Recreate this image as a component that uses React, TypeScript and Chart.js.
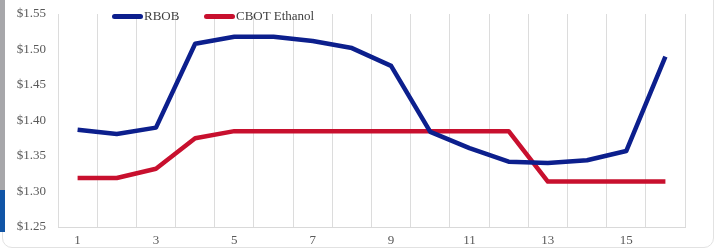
import React, { useEffect, useRef } from "react";
import { Chart, registerables } from "chart.js";

Chart.register(...registerables);

const categories = ["1","2","3","4","5","6","7","8","9","10","11","12","13","14","15","16"];
const rbob = [1.387,1.381,1.390,1.508,1.518,1.518,1.512,1.502,1.477,1.384,1.361,1.342,1.340,1.344,1.357,1.490];
const ethanol = [1.319,1.319,1.332,1.375,1.385,1.385,1.385,1.385,1.385,1.385,1.385,1.385,1.314,1.314,1.314,1.314];
const seriesNames = ["RBOB", "CBOT Ethanol"];
const yMin = 1.25;
const yMax = 1.55;
const yStep = 0.05;

const BLUE = "#0c1f8d";
const RED = "#c8102e";
const FONT = "'Liberation Serif', 'Times New Roman', serif";

export default function App() {
  const ref = useRef<HTMLCanvasElement | null>(null);

  useEffect(() => {
    document.body.style.margin = "0";
    const canvas = ref.current;
    if (!canvas) return;
    const chart = new Chart(canvas, {
      type: "line",
      data: {
        labels: categories,
        datasets: [
          {
            label: seriesNames[0],
            data: rbob,
            borderColor: BLUE,
            backgroundColor: BLUE,
            borderWidth: 4.5,
            pointRadius: 0,
            tension: 0,
            borderJoinStyle: "round",
          },
          {
            label: seriesNames[1],
            data: ethanol,
            borderColor: RED,
            backgroundColor: RED,
            borderWidth: 4.5,
            pointRadius: 0,
            tension: 0,
            borderJoinStyle: "round",
          },
        ],
      },
      options: {
        responsive: false,
        animation: false,
        layout: { padding: { left: 0, right: 37, top: 14, bottom: 0 } },
        plugins: { legend: { display: false }, tooltip: { enabled: false } },
        scales: {
          x: {
            offset: true,
            grid: { offset: true, color: "#dcdcdc", lineWidth: 1, drawTicks: false },
            border: { display: true, color: "#d9d9d9" },
            ticks: {
              autoSkip: false,
              maxRotation: 0,
              padding: 6,
              color: "#595959",
              font: { family: FONT, size: 13 },
              callback: (_v: any, i: number) => (i % 2 === 0 ? categories[i] : ""),
            },
            afterFit: (s: any) => { s.height = 25; },
          },
          y: {
            min: yMin,
            max: yMax,
            grid: { display: false, drawTicks: false },
            border: { display: false },
            ticks: {
              stepSize: yStep,
              padding: 12,
              color: "#595959",
              font: { family: FONT, size: 13 },
              callback: (v: any) => "$" + Number(v).toFixed(2),
            },
            afterFit: (s: any) => { s.width = 58; s.paddingTop = 0; s.paddingBottom = 0; },
          },
        },
      },
    });
    return () => chart.destroy();
  }, []);

  const legendItem = (x: number, color: string, text: string) => (
    <div style={{ position: "absolute", left: x, top: 8, height: 16, display: "flex", alignItems: "center" }}>
      <div style={{ width: 31, height: 5, borderRadius: 3, background: color }} />
      <span style={{ fontFamily: FONT, fontSize: 13, color: "#404040", marginLeft: 1, lineHeight: "16px" }}>{text}</span>
    </div>
  );

  return (
    <div style={{ position: "fixed", left: 0, top: 0, width: 722, height: 252, background: "#fff", overflow: "hidden" }}>
      <div style={{ position: "absolute", left: 2, top: -20, width: 712, height: 268, border: "1px solid #e2e2e2", borderRadius: 10, boxSizing: "border-box" }} />
      <div style={{ position: "absolute", left: 0, top: 0, width: 5, height: 190, background: "#a7a7aa" }} />
      <div style={{ position: "absolute", left: 0, top: 190, width: 5, height: 42, background: "#1155a6" }} />
      <canvas ref={ref} width={722} height={252} style={{ position: "absolute", left: 0, top: 0 }} />
      {legendItem(112, BLUE, seriesNames[0])}
      {legendItem(204, RED, seriesNames[1])}
    </div>
  );
}
